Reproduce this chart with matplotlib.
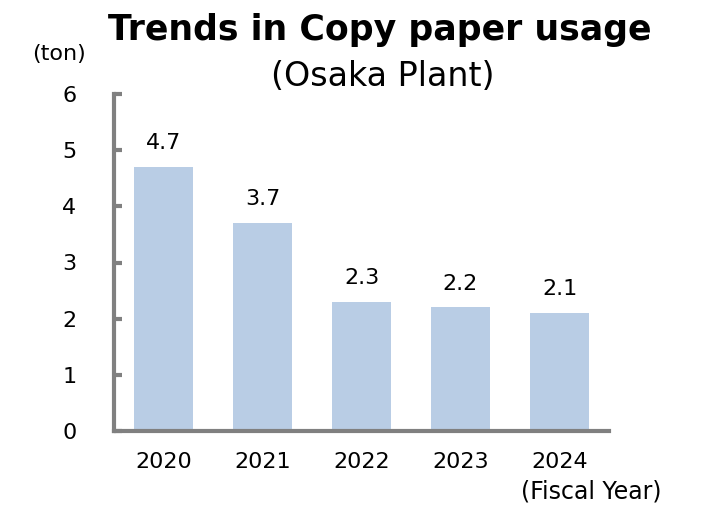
import matplotlib
matplotlib.use("Agg")
import matplotlib.pyplot as plt

plt.rcParams['font.family'] = ['DejaVu Sans']

years = ['2020', '2021', '2022', '2023', '2024']
usage = [4.7, 3.7, 2.3, 2.2, 2.1]
value_labels = ['4.7', '3.7', '2.3', '2.2', '2.1']
y_ticks = [0, 1, 2, 3, 4, 5, 6]

bar_color = '#B9CDE5'
axis_color = '#808080'

fig = plt.figure(figsize=(7.15, 5.24), dpi=100)
ax = fig.add_axes([114 / 715, 1 - 431 / 524, 495 / 715, 337 / 524])

x = range(len(years))
ax.bar(x, usage, width=0.59, color=bar_color, zorder=2)

for i, (v, lbl) in enumerate(zip(usage, value_labels)):
    ax.annotate(lbl, (i, v), xytext=(0, 10), textcoords='offset points',
                ha='center', va='bottom', fontsize=16, color='black')

ax.set_xlim(-0.5, 4.5)
ax.set_ylim(0, 6)
ax.set_xticks(list(x))
ax.set_xticklabels(years, fontsize=16)
ax.set_yticks(y_ticks)
ax.set_yticklabels([str(t) for t in y_ticks], fontsize=16)

for side in ['top', 'right']:
    ax.spines[side].set_visible(False)
for side in ['left', 'bottom']:
    ax.spines[side].set_color(axis_color)
    ax.spines[side].set_linewidth(3)
    ax.spines[side].set_capstyle('projecting')

ax.tick_params(axis='y', direction='in', length=6, width=3, color=axis_color, pad=27)
ax.tick_params(axis='x', length=0, pad=15)

fig.text(380 / 715, 1 - 30 / 524, 'Trends in Copy paper usage', ha='center', va='center',
         fontsize=25, fontweight='bold')
fig.text(383 / 715, 1 - 76 / 524, '(Osaka Plant)', ha='center', va='center', fontsize=24)
fig.text(59 / 715, 1 - 54 / 524, '(ton)', ha='center', va='center', fontsize=16)
fig.text(591 / 715, 1 - 491 / 524, '(Fiscal Year)', ha='center', va='center', fontsize=17)

fig.savefig('out.png', dpi=100)
